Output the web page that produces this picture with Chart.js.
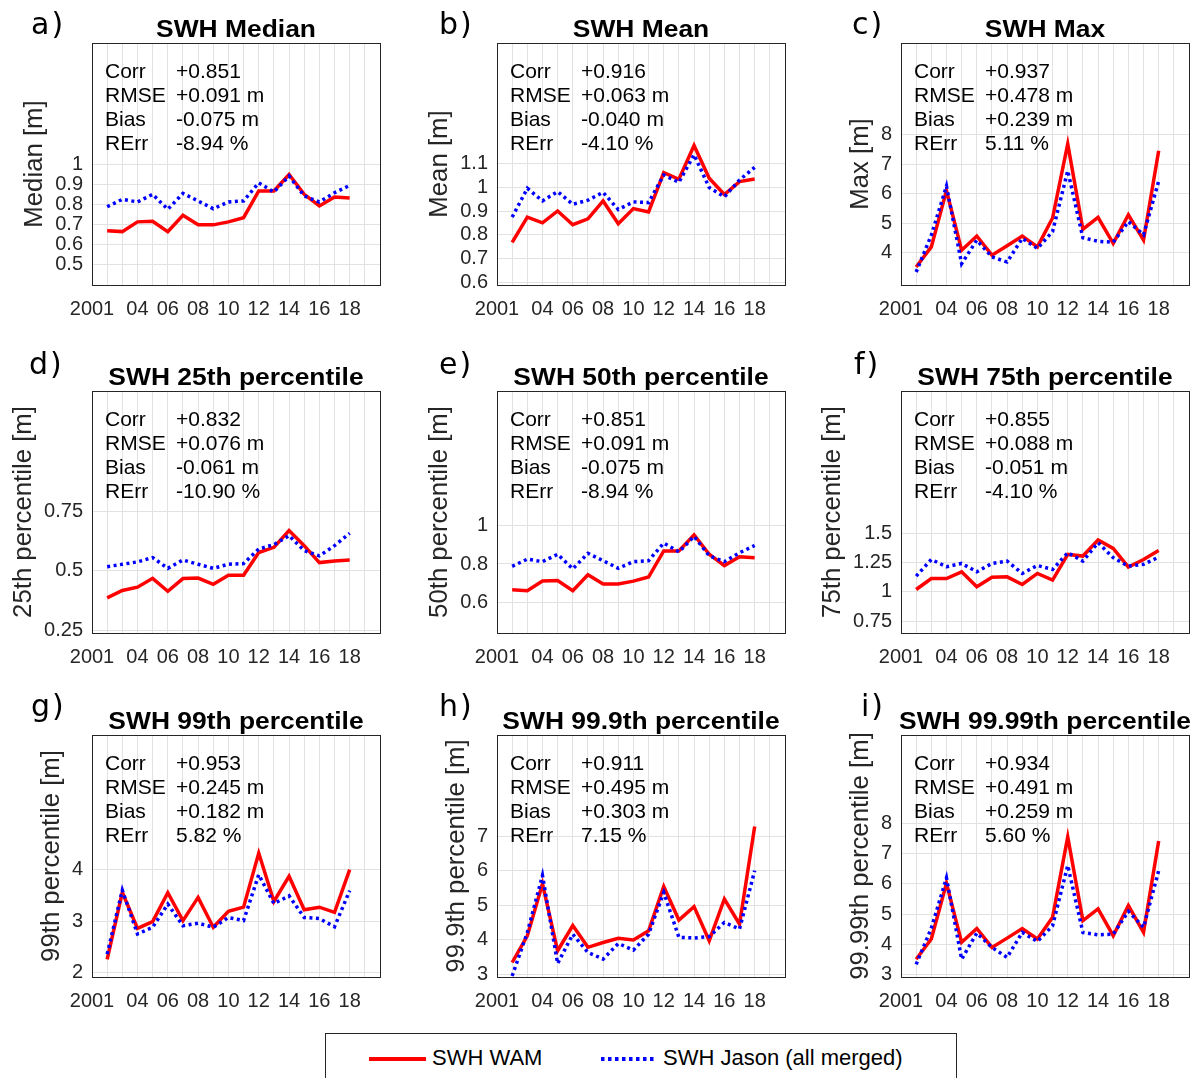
<!DOCTYPE html>
<html><head><meta charset="utf-8">
<script src="https://cdn.jsdelivr.net/npm/chart.js@4.4.1/dist/chart.umd.min.js"></script>
<style>
html,body{margin:0;padding:0;background:#fff;}
body{width:1201px;height:1078px;overflow:hidden;position:relative;font-family:"Liberation Sans",Arial,sans-serif;}
canvas.panel{position:absolute;}
.letter{position:absolute;font-family:"DejaVu Sans",sans-serif;font-size:30px;line-height:30px;color:#000;white-space:nowrap;letter-spacing:2px;}
#legend{position:absolute;left:325px;top:1033px;width:632px;height:70px;border:1px solid #262626;box-sizing:border-box;background:#fff;}
#legend span{position:absolute;top:13px;font-size:22px;line-height:22px;color:#000;white-space:nowrap;}
</style></head><body>
<div id="legend">
  <svg width="630" height="60" style="position:absolute;left:0;top:0">
    <line x1="43" y1="25" x2="100" y2="25" stroke="#ff0000" stroke-width="4"/>
    <line x1="275" y1="25" x2="331" y2="25" stroke="#0000ff" stroke-width="4" stroke-dasharray="3.5 3.5"/>
  </svg>
  <span style="left:106px">SWH WAM</span>
  <span style="left:337px">SWH Jason (all merged)</span>
</div>
<script>
// ---------- data ----------
const years = [2002,2003,2004,2005,2006,2007,2008,2009,2010,2011,2012,2013,2014,2015,2016,2017,2018];
const xGridYears = [2001,2002,2003,2004,2005,2006,2007,2008,2009,2010,2011,2012,2013,2014,2015,2016,2017,2018,2019,2020];
const xTickValues = [2001,2004,2006,2008,2010,2012,2014,2016,2018];
const xTickLabels = ['2001','04','06','08','10','12','14','16','18'];

const wamMedian   = [0.667,0.663,0.712,0.715,0.663,0.745,0.697,0.697,0.712,0.733,0.867,0.867,0.950,0.850,0.792,0.837,0.832];
const jasonMedian = [0.788,0.825,0.812,0.850,0.775,0.855,0.817,0.778,0.812,0.817,0.908,0.862,0.942,0.842,0.812,0.858,0.895];
const wamMean     = [0.769,0.875,0.851,0.901,0.843,0.868,0.943,0.847,0.911,0.897,1.062,1.034,1.176,1.038,0.970,1.024,1.035];
const jasonMean   = [0.875,0.996,0.943,0.982,0.929,0.946,0.979,0.907,0.939,0.936,1.052,1.021,1.137,0.999,0.960,1.031,1.084];
const wamMax      = [3.51,4.19,6.10,4.08,4.56,3.91,4.23,4.56,4.19,5.17,7.68,4.79,5.19,4.31,5.28,4.42,7.45];
const jasonMax    = [3.34,4.59,6.25,3.62,4.42,3.85,3.68,4.48,4.14,4.71,6.77,4.50,4.38,4.35,5.05,4.60,6.42];
const wamP25      = [0.387,0.418,0.432,0.469,0.415,0.468,0.470,0.444,0.482,0.482,0.577,0.599,0.669,0.606,0.535,0.542,0.546];
const jasonP25    = [0.518,0.528,0.538,0.556,0.511,0.546,0.528,0.511,0.528,0.531,0.592,0.610,0.648,0.585,0.563,0.606,0.658];
const wamP50      = [0.667,0.663,0.712,0.715,0.663,0.745,0.697,0.697,0.712,0.733,0.867,0.867,0.950,0.850,0.792,0.837,0.832];
const jasonP50    = [0.788,0.825,0.812,0.850,0.775,0.855,0.817,0.778,0.812,0.817,0.908,0.862,0.942,0.842,0.812,0.858,0.895];
const wamP75      = [1.020,1.114,1.114,1.171,1.043,1.125,1.128,1.063,1.157,1.100,1.319,1.305,1.442,1.370,1.211,1.276,1.353];
const jasonP75    = [1.134,1.276,1.214,1.242,1.171,1.242,1.262,1.157,1.225,1.191,1.333,1.262,1.419,1.291,1.219,1.234,1.296];
const wamP99      = [2.26,3.56,2.86,2.99,3.55,3.01,3.46,2.88,3.19,3.27,4.32,3.38,3.87,3.22,3.27,3.17,4.00];
const jasonP99    = [2.36,3.60,2.75,2.88,3.33,2.91,2.96,2.88,3.07,3.01,3.90,3.34,3.49,3.07,3.05,2.89,3.59];
const wamP999     = [3.34,4.11,5.62,3.68,4.41,3.78,3.92,4.04,3.99,4.26,5.54,4.57,4.96,3.97,5.18,4.45,7.28];
const jasonP999   = [2.95,4.21,5.86,3.31,4.16,3.63,3.44,3.89,3.70,4.16,5.37,4.07,4.05,4.09,4.50,4.31,6.00];
const wamP9999    = [3.50,4.17,6.02,4.06,4.52,3.89,4.20,4.52,4.17,4.89,7.56,4.78,5.17,4.28,5.28,4.39,7.42];
const jasonP9999  = [3.33,4.53,6.20,3.50,4.37,3.89,3.56,4.39,4.09,4.61,6.61,4.39,4.31,4.33,5.09,4.56,6.44];

const yTicksMedian = [0.5,0.6,0.7,0.8,0.9,1];
const yTicksMean   = [0.6,0.7,0.8,0.9,1,1.1];
const yTicksMax    = [4,5,6,7,8];
const yTicksP25    = [0.25,0.5,0.75];
const yTicksP50    = [0.6,0.8,1];
const yTicksP75    = [0.75,1,1.25,1.5];
const yTicksP99    = [2,3,4];
const yTicksP999   = [3,4,5,6,7];
const yTicksP9999  = [3,4,5,6,7,8];

const statNames = ['Corr','RMSE','Bias','RErr'];
const statsMedian = ['+0.851','+0.091 m','-0.075 m','-8.94 %'];
const statsMean   = ['+0.916','+0.063 m','-0.040 m','-4.10 %'];
const statsMax    = ['+0.937','+0.478 m','+0.239 m','5.11 %'];
const statsP25    = ['+0.832','+0.076 m','-0.061 m','-10.90 %'];
const statsP50    = ['+0.851','+0.091 m','-0.075 m','-8.94 %'];
const statsP75    = ['+0.855','+0.088 m','-0.051 m','-4.10 %'];
const statsP99    = ['+0.953','+0.245 m','+0.182 m','5.82 %'];
const statsP999   = ['+0.911','+0.495 m','+0.303 m','7.15 %'];
const statsP9999  = ['+0.934','+0.491 m','+0.259 m','5.60 %'];

const panels = [
  {letter:'a)', title:'SWH Median', ylabel:'Median [m]', wam:wamMedian, jason:jasonMedian, ymin:0.395, ymax:1.61, yticks:yTicksMedian, stats:statsMedian},
  {letter:'b)', title:'SWH Mean', ylabel:'Mean [m]', wam:wamMean, jason:jasonMean, ymin:0.59, ymax:1.606, yticks:yTicksMean, stats:statsMean},
  {letter:'c)', title:'SWH Max', ylabel:'Max [m]', wam:wamMax, jason:jasonMax, ymin:2.9, ymax:11.1, yticks:yTicksMax, stats:statsMax},
  {letter:'d)', title:'SWH 25th percentile', ylabel:'25th percentile [m]', wam:wamP25, jason:jasonP25, ymin:0.24, ymax:1.254, yticks:yTicksP25, stats:statsP25},
  {letter:'e)', title:'SWH 50th percentile', ylabel:'50th percentile [m]', wam:wamP50, jason:jasonP50, ymin:0.445, ymax:1.69, yticks:yTicksP50, stats:statsP50},
  {letter:'f)', title:'SWH 75th percentile', ylabel:'75th percentile [m]', wam:wamP75, jason:jasonP75, ymin:0.65, ymax:2.71, yticks:yTicksP75, stats:statsP75},
  {letter:'g)', title:'SWH 99th percentile', ylabel:'99th percentile [m]', wam:wamP99, jason:jasonP99, ymin:1.916, ymax:6.61, yticks:yTicksP99, stats:statsP99},
  {letter:'h)', title:'SWH 99.9th percentile', ylabel:'99.9th percentile [m]', wam:wamP999, jason:jasonP999, ymin:2.92, ymax:9.93, yticks:yTicksP999, stats:statsP999},
  {letter:'i)', title:'SWH 99.99th percentile', ylabel:'99.99th percentile [m]', wam:wamP9999, jason:jasonP9999, ymin:2.91, ymax:10.94, yticks:yTicksP9999, stats:statsP9999}
];

// ---------- layout ----------
const colLeft = [92, 497, 901];
const rowTop = [43, 391, 735];
const boxW = 294, boxH = 242;
const padL = 92, padT = 43, padR = 6, padB = 48;
const letterX = [31, 439, 852, 29, 439, 854, 31, 439, 861];
const letterBase = [34, 374, 716];
const FONT = "'Liberation Sans', Arial, Helvetica, sans-serif";
const tickFont = {family: FONT, size: 20};

function stretchText(ctx, txt, x, y, font, color, align, baseline, sx, rot) {
  ctx.save();
  ctx.font = font; ctx.fillStyle = color; ctx.textAlign = align; ctx.textBaseline = baseline;
  ctx.translate(x, y);
  if (rot) ctx.rotate(rot);
  ctx.scale(sx, 1);
  ctx.fillText(txt, 0, 0);
  ctx.restore();
}

const decorPlugin = {
  id: 'decor',
  afterDraw(chart) {
    const p = chart.options.plugins.decor;
    const ctx = chart.ctx, a = chart.chartArea;
    // axes box
    ctx.save();
    ctx.strokeStyle = '#262626'; ctx.lineWidth = 1;
    ctx.strokeRect(Math.round(a.left) + 0.5, Math.round(a.top) + 0.5, Math.round(a.right - a.left), Math.round(a.bottom - a.top));
    ctx.restore();
    // title
    stretchText(ctx, p.title, (a.left + a.right) / 2, a.top - 6, "bold 24px " + FONT, '#000', 'center', 'alphabetic', 1.1, 0);
    // stats
    for (let k = 0; k < 4; k++) {
      const by = a.top + 35 + 24 * k;
      stretchText(ctx, statNames[k], a.left + 13, by, "21px " + FONT, '#000', 'left', 'alphabetic', 1.0, 0);
      stretchText(ctx, p.stats[k], a.left + 84, by, "21px " + FONT, '#000', 'left', 'alphabetic', 1.0, 0);
    }
    // y label next to tick labels
    ctx.save();
    ctx.font = "20px " + FONT;
    let maxW = 0;
    p.yticks.forEach(v => { maxW = Math.max(maxW, ctx.measureText(String(v)).width); });
    ctx.restore();
    const xc = a.left - 9 - maxW - 20;
    stretchText(ctx, p.ylabel, xc, (a.top + a.bottom) / 2, "25px " + FONT, '#262626', 'center', 'middle', 1.03, -Math.PI / 2);
  }
};

panels.forEach((p, idx) => {
  const col = idx % 3, row = Math.floor(idx / 3);
  const cv = document.createElement('canvas');
  cv.className = 'panel';
  const W = padL + boxW + padR, H = padT + boxH + padB;
  cv.width = W; cv.height = H;
  cv.style.width = W + 'px'; cv.style.height = H + 'px';
  cv.style.left = (colLeft[col] - padL) + 'px';
  cv.style.top = (rowTop[row] - padT) + 'px';
  document.body.appendChild(cv);

  const lt = document.createElement('div');
  lt.className = 'letter';
  lt.textContent = p.letter;
  lt.style.left = letterX[idx] + 'px';
  lt.style.top = (letterBase[row] - 25.4) + 'px';
  document.body.appendChild(lt);

  new Chart(cv, {
    type: 'line',
    data: {
      datasets: [
        {label: 'SWH Jason (all merged)', data: p.jason.map((v, i) => ({x: years[i], y: v})),
         borderColor: '#0000ff', borderWidth: 3.5, borderDash: [3, 3.5], borderCapStyle: 'butt',
         pointRadius: 0, tension: 0, fill: false, order: 0},
        {label: 'SWH WAM', data: p.wam.map((v, i) => ({x: years[i], y: v})),
         borderColor: '#ff0000', borderWidth: 3.5, pointRadius: 0, tension: 0, fill: false, order: 1}
      ]
    },
    options: {
      responsive: false, animation: false, devicePixelRatio: 1,
      layout: {padding: {left: 0, top: padT, right: padR, bottom: 0}},
      plugins: {legend: {display: false}, tooltip: {enabled: false}, title: {display: false},
        decor: {title: p.title, stats: p.stats, ylabel: p.ylabel, yticks: p.yticks}},
      scales: {
        x: {
          type: 'linear', min: 2001, max: 2020,
          afterBuildTicks: s => { s.ticks = xGridYears.map(v => ({value: v})); },
          afterFit: s => { s.height = padB; },
          ticks: {autoSkip: false, maxRotation: 0, minRotation: 0, padding: 12, font: tickFont, color: '#262626',
            callback: v => { const j = xTickValues.indexOf(v); return j >= 0 ? xTickLabels[j] : ''; }},
          grid: {color: '#e2e2e2', lineWidth: 1, drawTicks: false},
          border: {display: false}
        },
        y: {
          type: 'linear', min: p.ymin, max: p.ymax,
          afterBuildTicks: s => { s.ticks = p.yticks.map(v => ({value: v})); },
          afterFit: s => { s.width = padL; },
          ticks: {padding: 9, font: tickFont, color: '#262626', callback: v => String(v)},
          grid: {color: '#e2e2e2', lineWidth: 1, drawTicks: false},
          border: {display: false}
        }
      }
    },
    plugins: [decorPlugin]
  });
});
</script>
</body></html>
